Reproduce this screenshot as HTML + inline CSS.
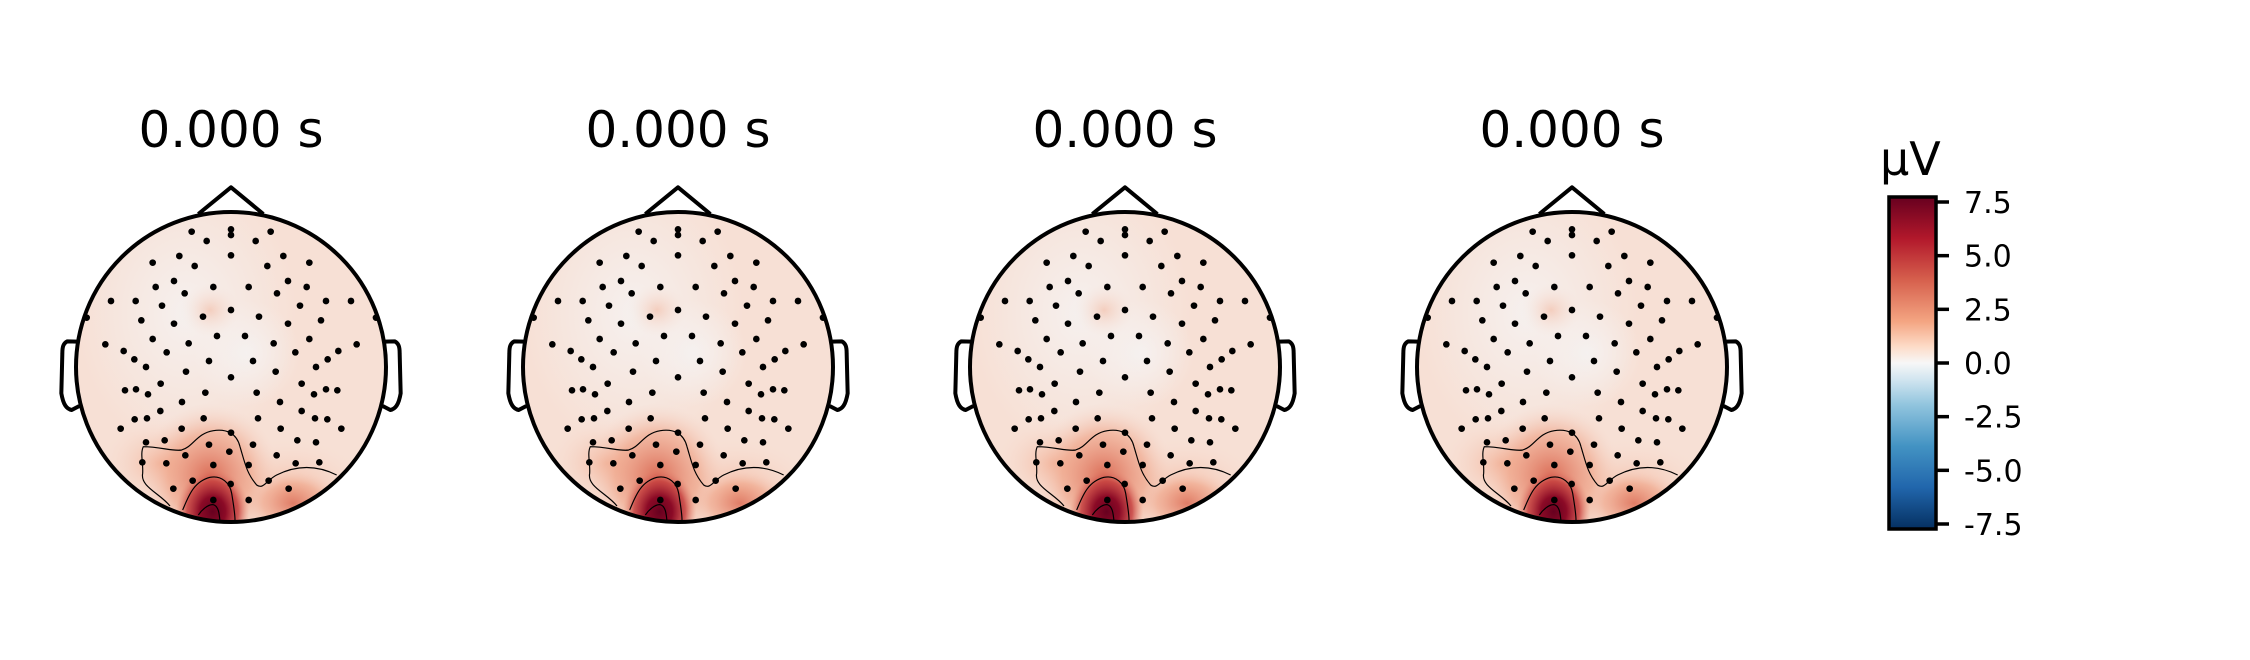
<!DOCTYPE html>
<html><head><meta charset="utf-8"><style>
html,body{margin:0;padding:0;background:#fff;}
svg{display:block;font-family:"DejaVu Sans","Liberation Sans",sans-serif;}
</style></head><body>
<svg id="fig" width="2250" height="660" viewBox="0 0 2250 660" xmlns="http://www.w3.org/2000/svg">
<defs>
<clipPath id="headclip"><circle cx="693" cy="861" r="465"/></clipPath>
<radialGradient id="gPeak"><stop offset="0" stop-color="#67001f"/><stop offset="0.35" stop-color="#8b0a26"/><stop offset="0.7" stop-color="#c43c3c" stop-opacity="0.8"/><stop offset="1" stop-color="#e8907a" stop-opacity="0"/></radialGradient>
<radialGradient id="gMid"><stop offset="0" stop-color="#d9654f" stop-opacity="0.95"/><stop offset="0.6" stop-color="#ee9f82" stop-opacity="0.6"/><stop offset="1" stop-color="#f6d6c8" stop-opacity="0"/></radialGradient>
<radialGradient id="gSoft"><stop offset="0" stop-color="#f2ac90" stop-opacity="0.8"/><stop offset="1" stop-color="#f8e0d5" stop-opacity="0"/></radialGradient>
<radialGradient id="gPale"><stop offset="0" stop-color="#f5f2f1" stop-opacity="0.9"/><stop offset="1" stop-color="#f5f2f1" stop-opacity="0"/></radialGradient>
<linearGradient id="cbar" x1="0" y1="1" x2="0" y2="0">
<stop offset="0" stop-color="#053061"/><stop offset="0.125" stop-color="#2166ac"/><stop offset="0.25" stop-color="#4393c3"/><stop offset="0.375" stop-color="#92c5de"/><stop offset="0.45" stop-color="#d1e5f0"/><stop offset="0.5" stop-color="#f7f7f7"/><stop offset="0.55" stop-color="#fddbc7"/><stop offset="0.625" stop-color="#f4a582"/><stop offset="0.75" stop-color="#d6604d"/><stop offset="0.875" stop-color="#b2182b"/><stop offset="1" stop-color="#67001f"/>
</linearGradient>
</defs>
<g id="heads"></g>
<g id="colorbar"></g>
</svg>
<script>
const titles = ["0.000 s","0.000 s","0.000 s","0.000 s"];
const cbTicks = [7.5, 5.0, 2.5, 0.0, -2.5, -5.0, -7.5];
const cbTickLabels = ["7.5","5.0","2.5","0.0","-2.5","-5.0","-7.5"];
const vmin = -7.5, vmax = 7.5;
const sensors = [[575,455],[693,448],[693,465],[812,455],[620,483],[767,483],[538,528],[693,526],[850,528],[458,548],[584,558],[802,558],[928,548],[522,603],[864,603],[467,621],[640,621],[746,621],[920,621],[554,640],[831,640],[333,663],[407,663],[486,677],[978,663],[1053,663],[900,677],[693,690],[609,710],[777,710],[260,713],[1128,713],[424,721],[522,731],[864,731],[963,721],[458,777],[651,768],[735,768],[566,790],[821,790],[928,777],[316,793],[1070,793],[371,813],[500,817],[886,817],[1015,813],[403,838],[627,843],[759,843],[983,838],[438,861],[558,875],[827,875],[948,861],[693,892],[482,911],[905,911],[375,931],[408,928],[444,943],[616,938],[770,938],[942,943],[978,928],[1012,931],[546,966],[840,966],[481,993],[905,993],[404,1018],[441,1015],[611,1015],[774,1015],[945,1015],[982,1018],[362,1046],[545,1046],[693,1058],[842,1046],[1024,1046],[438,1087],[494,1081],[627,1094],[759,1094],[892,1081],[948,1087],[427,1147],[499,1150],[556,1126],[640,1155],[688,1115],[746,1155],[830,1126],[887,1150],[958,1147],[578,1202],[692,1212],[806,1202],[520,1226],[866,1226],[640,1260],[746,1260]];
const NS="http://www.w3.org/2000/svg";
function mk(tag, attrs, parent){const e=document.createElementNS(NS,tag);for(const k in attrs)e.setAttribute(k,attrs[k]);parent.appendChild(e);return e;}
const heads=document.getElementById('heads');
const spacing=447;
titles.forEach((t,i)=>{
  const g=mk('g',{transform:`translate(${spacing*i},0)`},heads);
  
  
  const tt=mk('text',{x:231,y:147,'text-anchor':'middle','font-size':50,fill:'#000'},g);
  tt.textContent=t;
  
  
  const z=mk('g',{transform:'translate(0,80) scale(0.33333)'},g);
  const heat=mk('g',{'clip-path':'url(#headclip)'},z);
  
  
  mk('rect',{x:200,y:380,width:990,height:980,fill:'#f7e0d5'},heat);
  mk('ellipse',{cx:560,cy:700,rx:330,ry:420,fill:'url(#gPale)'},heat);
  mk('ellipse',{cx:740,cy:820,rx:160,ry:160,fill:'url(#gPale)'},heat);
  mk('ellipse',{cx:630,cy:690,rx:90,ry:80,fill:'url(#gSoft)','opacity':0.6},heat);
  mk('ellipse',{cx:870,cy:1240,rx:250,ry:170,fill:'url(#gSoft)'},heat);
  mk('ellipse',{cx:480,cy:1150,rx:180,ry:140,fill:'url(#gSoft)'},heat);
  mk('ellipse',{cx:630,cy:1190,rx:210,ry:220,fill:'url(#gMid)'},heat);
  mk('ellipse',{cx:880,cy:1270,rx:150,ry:100,fill:'url(#gMid)',opacity:0.8},heat);
  mk('ellipse',{cx:638,cy:1295,rx:110,ry:130,fill:'url(#gPeak)'},heat);
  const c=mk('g',{fill:'none',stroke:'#000','stroke-width':3.5,'clip-path':'url(#headclip)'},z);
  
  
  mk('path',{d:'M510,1278 C480,1240 420,1220 428,1180 C430,1150 420,1120 430,1100 C480,1100 520,1115 545,1110 C580,1100 590,1060 640,1052 C680,1046 710,1060 720,1100 C735,1150 740,1180 770,1215 C790,1230 800,1200 830,1185 C880,1160 940,1150 1010,1185'},c);
  mk('path',{d:'M548,1290 C565,1250 580,1205 630,1192 C665,1185 690,1210 695,1240 C700,1270 705,1300 705,1320'},c);
  mk('path',{d:'M595,1305 C605,1290 625,1272 640,1274 C655,1278 658,1300 660,1325'},c);
  const d=mk('g',{fill:'#000'},z);
  
  
  sensors.forEach(p=>{mk('circle',{cx:p[0],cy:p[1],r:10},d);});
  const o=mk('g',{fill:'none',stroke:'#000','stroke-width':12,'stroke-linejoin':'round'},z);
  
  
  mk('circle',{cx:693,cy:861,r:465},o);
  mk('path',{d:'M595,402 L693,322 L790,402'},o);
  mk('path',{d:'M232,785 L202,784 C190,790 187,800 187,820 L184,940 C190,975 200,987 215,990 L238,978'},o);
  mk('path',{d:'M1154,785 L1184,784 C1196,790 1199,800 1199,820 L1202,940 C1196,975 1186,987 1171,990 L1148,978'},o);
});
// colorbar
const cb=document.getElementById('colorbar');
const cbX=1889, cbW=47, yTop=202, yBot=524;
const yScale=v=>yTop+(vmax-v)/(vmax-vmin)*(yBot-yTop);
const bar=mk('rect',{x:cbX,y:yScale(vmax)-5,width:cbW,height:(yBot-yTop)+10,fill:'url(#cbar)',stroke:'#000','stroke-width':3.5},cb);


cbTicks.forEach((v,i)=>{
  const y=yScale(v);
  const tk=mk('line',{x1:cbX+cbW,x2:cbX+cbW+13,y1:y,y2:y,stroke:'#000','stroke-width':3.5},cb);
  
  
  const lb=mk('text',{x:1964,y:y+11,'font-size':30,fill:'#000'},cb);
  lb.textContent=cbTickLabels[i];
  
  
});
const unit=mk('text',{x:1880,y:175,'font-size':46,fill:'#000'},cb);
unit.textContent='µV';


</script>
</body></html>
